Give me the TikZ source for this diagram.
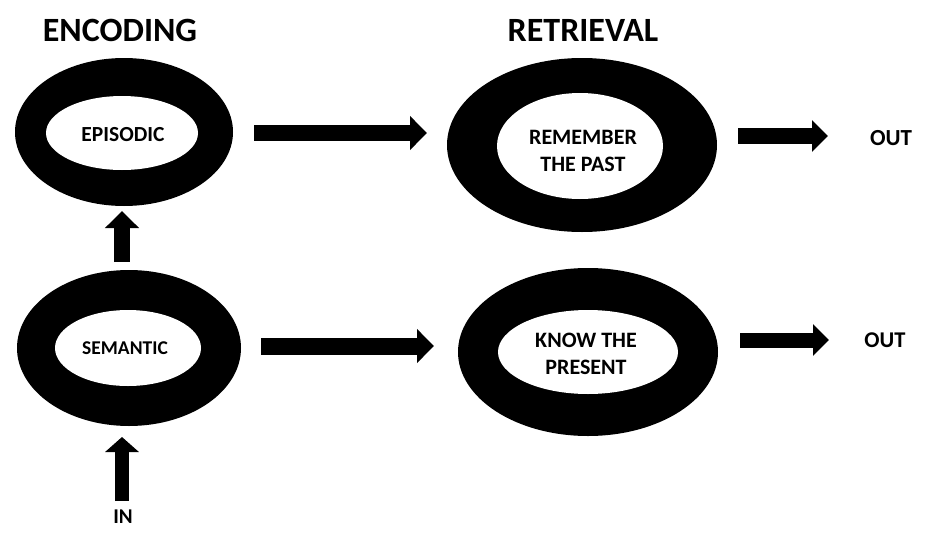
\documentclass[tikz,border=0pt]{standalone}
\usepackage{fontspec}
\setmainfont{Carlito}
\usetikzlibrary{shapes.geometric,arrows.meta,calc}
\begin{document}
\begin{tikzpicture}[x=1pt,y=1pt,
 ring/.style={ellipse,fill=black,inner sep=0pt,outer sep=0pt},
 hole/.style={ellipse,fill=white,inner sep=0pt,outer sep=0pt},
 txt/.style={align=center,inner sep=0pt,font=\bfseries\fontsize{22}{27.5}\selectfont},
 blk/.style={line width=16pt,-{Triangle[length=17pt,width=33pt]}},
 lbl/.style={font=\bfseries\fontsize{23}{26}\selectfont,inner sep=0pt},
 ttl/.style={font=\bfseries\fontsize{34}{40}\selectfont,inner sep=0pt}]
\useasboundingbox (0,0) rectangle (927,-533);
\node[ttl] (enc) at (120,-30) {ENCODING};
\node[ttl] (ret) at (583,-30) {RETRIEVAL};
% rings
\node[ring,minimum width=218pt,minimum height=148pt] (epiR) at (124,-132) {};
\node[hole,minimum width=152pt,minimum height=74pt] (epi) at (122,-133) {};
\node[txt,font=\bfseries\fontsize{21.5}{26}\selectfont] (epiT) at (123,-135) {EPISODIC};
\node[ring,minimum width=224pt,minimum height=156pt] (semR) at (129,-348) {};
\node[hole,minimum width=146pt,minimum height=76pt] (sem) at (128,-348) {};
\node[txt,font=\bfseries\fontsize{19.5}{24}\selectfont] (semT) at (125,-348) {SEMANTIC};
\node[ring,minimum width=270pt,minimum height=174pt] (remR) at (582,-145) {};
\node[hole,minimum width=166pt,minimum height=106pt] (rem) at (580,-146) {};
\node[txt] (remT) at (583,-151) {REMEMBER\\THE PAST};
\node[ring,minimum width=260pt,minimum height=168pt] (knowR) at (588,-352) {};
\node[hole,minimum width=180pt,minimum height=84pt] (know) at (588,-352) {};
\node[txt] (knowT) at (586,-354) {KNOW THE\\PRESENT};
% labels
\node[lbl] (out1) at (891,-138) {OUT};
\node[lbl,font=\bfseries\fontsize{22.5}{26}\selectfont] (out2) at (885,-340) {OUT};
\node[lbl,font=\bfseries\fontsize{21}{26}\selectfont] (in) at (123,-517) {IN};
% arrows
\draw[blk] ($(epiR.east)+(21,-1)$) -- ($(remR.west)+(-20,12)$);
\draw[blk] ($(semR.north)+(-7,8)$) -- ($(epiR.south)+(-2,-5)$);
\draw[blk,line width=14pt,-{Triangle[length=15pt,width=33pt]}] ($(semR.south)+(-7,-75)$) -- ($(semR.south)+(-7,-11)$);
\draw[blk,line width=17pt] ($(semR.east)+(20,2)$) -- ($(knowR.west)+(-24,6)$);
\draw[blk,-{Triangle[length=16pt,width=31pt]}] ($(remR.east)+(21,9)$) -- ($(remR.east)+(111,9)$);
\draw[blk,line width=15pt,-{Triangle[length=16pt,width=31pt]}] ($(knowR.east)+(22,12)$) -- ($(knowR.east)+(111,12)$);
\end{tikzpicture}
\end{document}
